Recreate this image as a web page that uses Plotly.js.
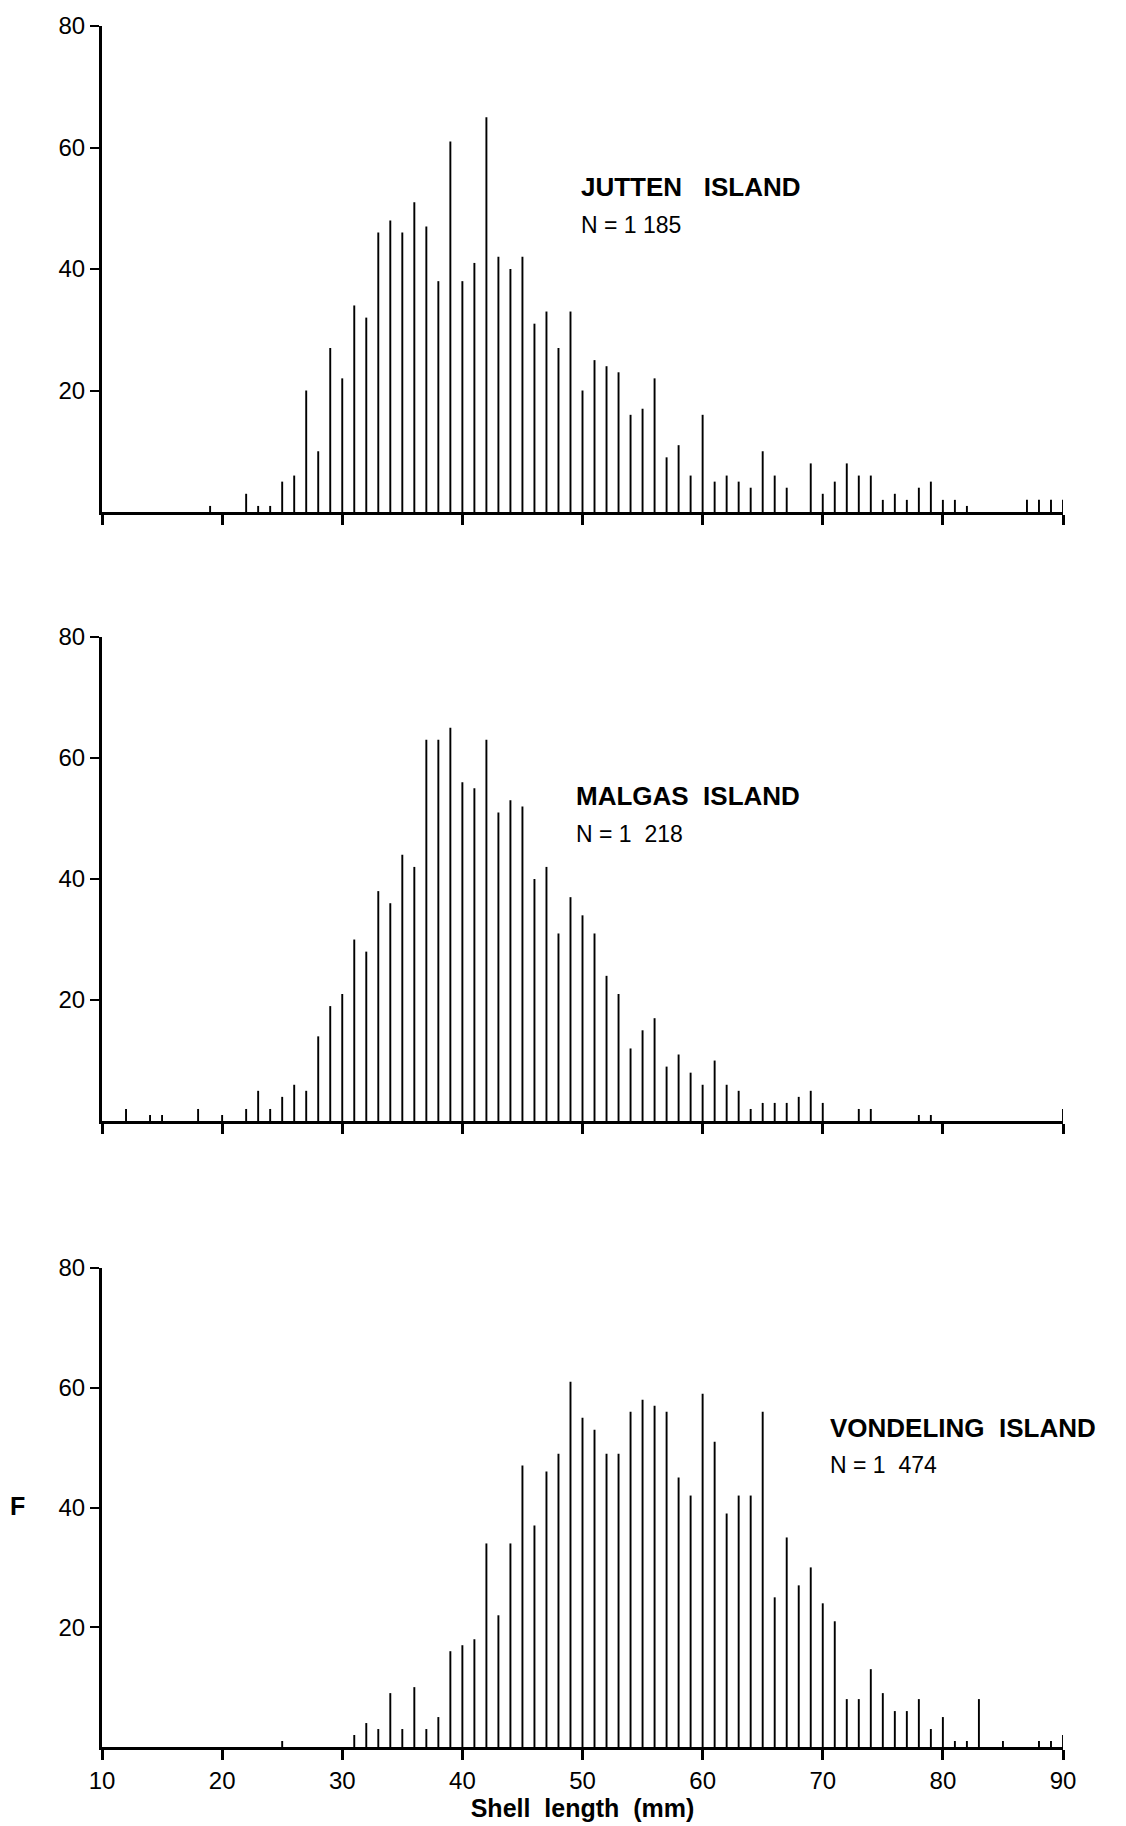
<!DOCTYPE html>
<html>
<head>
<meta charset="utf-8">
<script src="https://cdn.plot.ly/plotly-3.0.1.min.js"></script>
<style>
  html, body { margin: 0; padding: 0; background: #ffffff; }
  #chart { width: 1126px; height: 1826px; }
</style>
</head>
<body>
<div id="chart"></div>
<script>
// ---- Data (shell length in mm, frequency F) ----
const juttenLength = [19,22,23,24,25,26,27,28,29,30,31,32,33,34,35,36,37,38,39,40,41,42,43,44,45,46,47,48,49,50,51,52,53,54,55,56,57,58,59,60,61,62,63,64,65,66,67,69,70,71,72,73,74,75,76,77,78,79,80,81,82,87,88,89,90];
const juttenFreq   = [1,3,1,1,5,6,20,10,27,22,34,32,46,48,46,51,47,38,61,38,41,65,42,40,42,31,33,27,33,20,25,24,23,16,17,22,9,11,6,16,5,6,5,4,10,6,4,8,3,5,8,6,6,2,3,2,4,5,2,2,1,2,2,2,2];

const malgasLength = [12,14,15,18,20,22,23,24,25,26,27,28,29,30,31,32,33,34,35,36,37,38,39,40,41,42,43,44,45,46,47,48,49,50,51,52,53,54,55,56,57,58,59,60,61,62,63,64,65,66,67,68,69,70,73,74,78,79,90];
const malgasFreq   = [2,1,1,2,1,2,5,2,4,6,5,14,19,21,30,28,38,36,44,42,63,63,65,56,55,63,51,53,52,40,42,31,37,34,31,24,21,12,15,17,9,11,8,6,10,6,5,2,3,3,3,4,5,3,2,2,1,1,2];

const vondelingLength = [25,31,32,33,34,35,36,37,38,39,40,41,42,43,44,45,46,47,48,49,50,51,52,53,54,55,56,57,58,59,60,61,62,63,64,65,66,67,68,69,70,71,72,73,74,75,76,77,78,79,80,81,82,83,85,88,89,90];
const vondelingFreq   = [1,2,4,3,9,3,10,3,5,16,17,18,34,22,34,47,37,46,49,61,55,53,49,49,56,58,57,56,45,42,59,51,39,42,42,56,25,35,27,30,24,21,8,8,13,9,6,6,8,3,5,1,1,8,1,1,1,2];

const islandNames = ["JUTTEN\u00A0\u00A0\u00A0ISLAND", "MALGAS\u00A0\u00A0ISLAND", "VONDELING\u00A0\u00A0ISLAND"];
const sampleSizes = ["N = 1 185", "N = 1\u00A0\u00A0218", "N = 1\u00A0\u00A0474"];
const xTickValues = [10,20,30,40,50,60,70,80,90];
const yTickValues = [20,40,60,80];
const xTitle = "Shell\u00A0\u00A0length\u00A0\u00A0(mm)";
const yTitle = "F";

// ---- Chart ----
const FONT = "Liberation Sans, Arial, Helvetica, sans-serif";
const series = [
  {x: juttenLength, y: juttenFreq},
  {x: malgasLength, y: malgasFreq},
  {x: vondelingLength, y: vondelingFreq}
];
const axisSuffix = ["", "2", "3"];
const domains = [[0.7176, 1.0], [0.3637, 0.645], [0.0, 0.2783]];

const traces = series.map((s, i) => ({
  type: "bar",
  x: s.x,
  y: s.y,
  width: 0.16,
  marker: {color: "#000000", line: {width: 0}},
  xaxis: "x" + axisSuffix[i],
  yaxis: "y" + axisSuffix[i],
  hoverinfo: "x+y",
  showlegend: false
}));

const layout = {
  width: 1126,
  height: 1826,
  margin: {l: 102, r: 63, t: 26, b: 79},
  paper_bgcolor: "#ffffff",
  plot_bgcolor: "#ffffff",
  font: {family: FONT, color: "#000000", size: 24},
  showlegend: false,
  annotations: []
};

for (let i = 0; i < 3; i++) {
  const sx = axisSuffix[i];
  layout["xaxis" + sx] = {
    range: [10, 90],
    anchor: "y" + sx,
    domain: [0, 1],
    tickvals: xTickValues,
    ticktext: xTickValues.map(String),
    showticklabels: i === 2,
    ticks: "outside",
    ticklen: 10,
    tickwidth: 3,
    tickcolor: "#000000",
    showline: true,
    linewidth: 3,
    linecolor: "#000000",
    showgrid: false,
    zeroline: false,
    tickfont: {family: FONT, size: 24, color: "#000000"},
    fixedrange: true
  };
  layout["yaxis" + sx] = {
    range: [0, 80],
    anchor: "x" + sx,
    domain: domains[i],
    tickvals: yTickValues,
    ticktext: yTickValues.map(String),
    ticks: "outside",
    ticklen: 9,
    tickwidth: 2,
    tickcolor: "#000000",
    showline: true,
    linewidth: 3,
    linecolor: "#000000",
    showgrid: false,
    zeroline: false,
    tickfont: {family: FONT, size: 24, color: "#000000"},
    fixedrange: true
  };
}

layout.xaxis3.title = {
  text: "<b>" + xTitle + "</b>",
  font: {family: FONT, size: 25, color: "#000000"},
  standoff: 4
};

// island labels
const labelPos = [
  {x: 49.7, y1: 53.5, y2: 47.2},
  {x: 49.3, y1: 53.7, y2: 47.4},
  {x: 70.4, y1: 53.3, y2: 47.1}
];
for (let i = 0; i < 3; i++) {
  const sx = axisSuffix[i];
  layout.annotations.push({
    xref: "x" + sx, yref: "y" + sx,
    x: labelPos[i].x, y: labelPos[i].y1,
    xanchor: "left", yanchor: "middle",
    text: "<b>" + islandNames[i] + "</b>",
    showarrow: false,
    font: {family: FONT, size: 26, color: "#000000"}
  });
  layout.annotations.push({
    xref: "x" + sx, yref: "y" + sx,
    x: labelPos[i].x, y: labelPos[i].y2,
    xanchor: "left", yanchor: "middle",
    text: sampleSizes[i],
    showarrow: false,
    font: {family: FONT, size: 23, color: "#000000"}
  });
}
// "F" axis label
layout.annotations.push({
  xref: "paper", yref: "paper",
  x: -0.088, y: 0.14,
  xanchor: "center", yanchor: "middle",
  text: "<b>" + yTitle + "</b>",
  showarrow: false,
  font: {family: FONT, size: 25, color: "#000000"}
});

Plotly.newPlot("chart", traces, layout, {displayModeBar: false, staticPlot: true});
</script>
</body>
</html>
